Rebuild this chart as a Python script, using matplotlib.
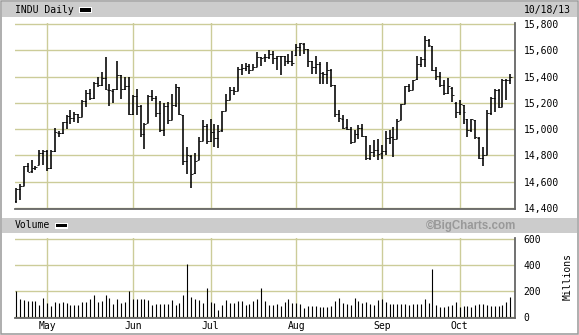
import numpy as np
import pandas as pd
import matplotlib
matplotlib.use("Agg")
import matplotlib.pyplot as plt
from matplotlib.patches import Rectangle

# trading days Apr 19 - Oct 18, 2013
holidays = ["2013-05-27", "2013-07-04", "2013-09-02"]
dates = pd.bdate_range("2013-04-19", "2013-10-18", freq="C", holidays=holidays)

# daily open / high / low / close
opens = [14455, 14540, 14568, 14718, 14677, 14700, 14726, 14818,
         14835, 14700, 14832, 14973, 14969, 15050, 15100, 15083, 15117, 15092, 15214, 15275,
         15234, 15354, 15335, 15387, 15300, 15290, 15305, 15408, 15303, 15325,
         15118, 15254, 15177, 14961, 15045, 15250, 15237, 15125, 14995, 15176,
         15072, 15180, 15318, 15110, 14760, 14797, 14662, 14762, 14912, 15024,
         14911, 14974, 14932, 14990, 15137, 15225, 15300, 15292, 15461, 15464,
         15484, 15452, 15471, 15548, 15545, 15546, 15568, 15540, 15555, 15557, 15522, 15521,
         15565, 15627, 15650, 15610, 15515, 15472, 15497, 15425, 15420, 15451,
         15332, 15112, 15080, 15012, 15002, 14899, 14964, 15010, 14945, 14776, 14825, 14842,
         14815, 14834, 14931, 14937, 14925, 15066, 15190, 15326, 15300, 15380,
         15495, 15530, 15677, 15636, 15450, 15401, 15334, 15275, 15315, 15200,
         15130, 15180, 15075, 14995, 15066, 14935, 14777, 14805, 15125, 15235,
         15300, 15170, 15370, 15370]
highs = [14550, 14585, 14722, 14744, 14767, 14719, 14838, 14838,
         14838, 14838, 15010, 14985, 15053, 15104, 15142, 15129, 15117, 15218, 15294, 15307,
         15357, 15395, 15433, 15547, 15345, 15307, 15522, 15410, 15395, 15395,
         15256, 15307, 15185, 15045, 15260, 15300, 15250, 15210, 15195, 15205,
         15270, 15340, 15320, 15110, 14865, 14800, 14815, 14940, 15071, 15040,
         15080, 15040, 15028, 15140, 15265, 15320, 15320, 15472, 15497, 15502,
         15497, 15497, 15590, 15550, 15573, 15604, 15598, 15560, 15560, 15560, 15573, 15598,
         15649, 15659, 15655, 15610, 15522, 15560, 15509, 15433, 15509, 15459,
         15332, 15142, 15104, 15079, 15015, 14990, 15028, 15041, 14945, 14876, 14914, 14927,
         14880, 14985, 14990, 15015, 15079, 15193, 15330, 15345, 15377, 15560,
         15552, 15710, 15687, 15636, 15471, 15433, 15370, 15390, 15320, 15205,
         15218, 15185, 15079, 15079, 15066, 14940, 14864, 15142, 15244, 15307,
         15307, 15383, 15383, 15421]
lows = [14438, 14458, 14565, 14674, 14666, 14686, 14724, 14724,
        14681, 14699, 14825, 14940, 14965, 15003, 15041, 15053, 15048, 15090, 15167, 15218,
        15231, 15320, 15325, 15300, 15173, 15198, 15300, 15231, 15300, 15110,
        15110, 15104, 14940, 14845, 15045, 15215, 15090, 14980, 14950, 15040,
        15066, 15170, 15110, 14730, 14660, 14551, 14660, 14762, 14912, 14889,
        14901, 14864, 14855, 14980, 15137, 15220, 15256, 15292, 15408, 15440,
        15420, 15446, 15470, 15484, 15509, 15535, 15497, 15446, 15408, 15484, 15497, 15484,
        15560, 15560, 15573, 15471, 15421, 15421, 15345, 15345, 15345, 15320,
        15091, 15053, 15003, 14990, 14884, 14899, 14927, 14940, 14762, 14762, 14788, 14762,
        14775, 14800, 14889, 14790, 14925, 15066, 15190, 15282, 15300, 15375,
        15471, 15471, 15623, 15440, 15370, 15320, 15256, 15269, 15205, 15086,
        15104, 15041, 14940, 14978, 14927, 14775, 14719, 14805, 15104, 15130,
        15162, 15168, 15218, 15340]
closes = [14540, 14567, 14719, 14676, 14700, 14712, 14818, 14835,
          14700, 14831, 14974, 14969, 15050, 15100, 15083, 15118, 15092, 15215, 15276, 15233,
          15354, 15335, 15388, 15307, 15295, 15303, 15409, 15303, 15325, 15116,
          15254, 15178, 14961, 15041, 15248, 15239, 15122, 14995, 15176, 15070,
          15180, 15318, 15112, 14758, 14799, 14660, 14760, 14910, 15024, 14910,
          14975, 14932, 14989, 15136, 15225, 15300, 15292, 15461, 15464, 15484,
          15452, 15471, 15549, 15544, 15546, 15568, 15542, 15556, 15559, 15522, 15521, 15500,
          15628, 15658, 15612, 15519, 15471, 15498, 15426, 15420, 15451, 15338,
          15112, 15081, 15011, 15003, 14898, 14964, 15011, 14946, 14776, 14825, 14841, 14810,
          14834, 14931, 14937, 14923, 15063, 15191, 15327, 15301, 15376, 15495,
          15530, 15677, 15637, 15451, 15401, 15335, 15273, 15328, 15258, 15130,
          15192, 15133, 14996, 15073, 14936, 14777, 14803, 15126, 15237, 15301,
          15168, 15374, 15372, 15400]

# daily volume, millions
volume = [201, 137, 129, 124, 124, 121, 90, 145,
          106, 83, 114, 109, 116, 103, 90, 90, 93, 114, 114, 137,
          168, 111, 119, 168, 142, 98, 137, 109, 116, 201,
          140, 134, 137, 134, 132, 88, 98, 98, 98, 98,
          129, 93, 109, 168, 408, 155, 134, 129, 109, 222,
          114, 109, 52, 90, 129, 106, 103, 121, 121, 93,
          98, 121, 134, 222, 121, 90, 93, 98, 83, 114, 140, 106,
          106, 98, 67, 83, 83, 83, 75, 75, 75, 83,
          121, 145, 103, 98, 93, 145, 121, 106, 114, 98, 88, 132,
          137, 114, 96, 98, 96, 98, 98, 88, 96, 98,
          98, 137, 109, 369, 90, 78, 78, 83, 93, 114,
          78, 83, 83, 72, 90, 98, 98, 93, 83, 83,
          83, 93, 114, 155]

price_ticks = [14400, 14600, 14800, 15000, 15200, 15400, 15600, 15800]
vol_ticks = [0, 200, 400, 600]

W, H = 579, 335
GRID = "#cccc99"
EDGE = "#666666"
MONO = "DejaVu Sans Mono"


def px_rect(x0, y0, x1, y1):
    return [x0 / W, 1 - y1 / H, (x1 - x0) / W, (y1 - y0) / H]


x = np.arange(len(dates))
month_first = [i for i in range(1, len(dates)) if dates[i].month != dates[i - 1].month]
month_names = [dates[i].strftime("%b") for i in month_first]

fig = plt.figure(figsize=(W / 100, H / 100), dpi=100)

# frame, title bands and labels in pixel coordinates
bg = fig.add_axes([0, 0, 1, 1])
bg.set_xlim(0, W)
bg.set_ylim(H, 0)
bg.axis("off")
bg.add_patch(Rectangle((0.75, 0.75), W - 1.5, H - 1.5, fill=False, edgecolor="#999999", lw=1.1))
bg.add_patch(Rectangle((2, 2), W - 4, 15, color="#cccccc", lw=0))
bg.add_patch(Rectangle((2, 218), W - 4, 14.7, color="#cccccc", lw=0))
for sx, sy in [(79, 7), (55, 222.5)]:
    bg.add_patch(Rectangle((sx, sy), 13, 6, color="white", lw=0))
    bg.add_patch(Rectangle((sx + 1.3, sy + 1.3), 10.4, 3.4, color="black", lw=0))
bg.text(15, 10, "INDU Daily", family=MONO, size=7, ha="left", va="center")
bg.text(571, 10, dates[-1].strftime("%m/%d/%y"), family=MONO, size=7, ha="right", va="center")
bg.text(15, 225.5, "Volume", family=MONO, size=7, ha="left", va="center")
bg.text(516, 225.8, "\u00a9BigCharts.com", family="Liberation Sans", weight="bold",
        size=8.3, color="#999999", ha="right", va="center")
bg.text(567.5, 276, "Millions", family=MONO, size=7, rotation=90, ha="center", va="center")


def style(ax):
    ax.set_xlim(-0.26, 128.1)
    ax.set_xticks(month_first)
    ax.grid(True, color=GRID, lw=1)
    ax.set_axisbelow(True)
    ax.yaxis.tick_right()
    ax.tick_params(length=0, labelsize=7, pad=6.5)
    for lab in ax.get_yticklabels() + ax.get_xticklabels():
        lab.set_family(MONO)
    for s in ["top", "left"]:
        ax.spines[s].set_visible(False)
    for s in ["bottom", "right"]:
        ax.spines[s].set_color(EDGE)
        ax.spines[s].set_linewidth(1.3)
    ax.patch.set_alpha(0)


# price panel: OHLC bars
ax = fig.add_axes(px_rect(15, 22.7, 514.5, 208.5))
ax.vlines(x, lows, highs, color="black", lw=1.15)
ax.hlines(opens, x - 0.5, x, color="black", lw=0.6)
ax.hlines(closes, x, x + 0.5, color="black", lw=0.6)
ax.set_ylim(14395, 15810)
ax.set_yticks(price_ticks)
ax.set_yticklabels([f"{v:,}" for v in price_ticks])
ax.set_xticklabels([])
style(ax)

# volume panel
axv = fig.add_axes(px_rect(15, 238, 514.5, 317.5))
axv.vlines(x, 0, volume, color="black", lw=0.8)
axv.set_ylim(-6, 610)
axv.set_yticks(vol_ticks)
axv.set_xticklabels(month_names)
style(axv)
axv.tick_params(axis="x", pad=2.5)

fig.savefig("out.png", dpi=100)
